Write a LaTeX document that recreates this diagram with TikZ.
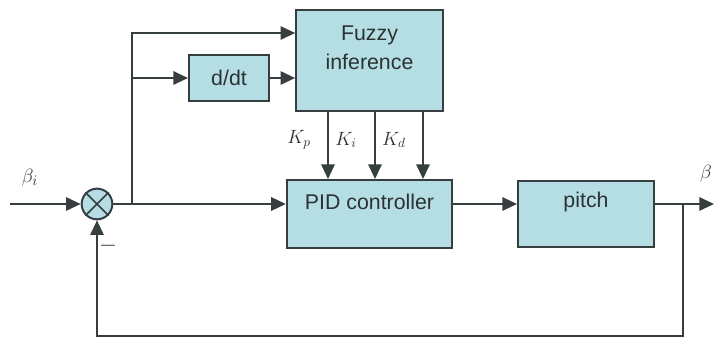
\documentclass[tikz,border=0pt]{standalone}
\usepackage{fontspec}
\setmainfont{Liberation Sans}
\usetikzlibrary{arrows.meta}
\definecolor{boxfill}{RGB}{180,222,228}
\definecolor{edge}{RGB}{55,62,64}

\begin{document}
\begin{tikzpicture}[x=0.75pt,y=-0.75pt,
  blk/.style={draw=edge,fill=boxfill,line width=1.5pt,inner sep=0pt},
  txt/.style={font=\fontsize{16}{19}\selectfont,text=edge!80!black},
  sig/.style={-{Triangle[length=11pt,width=10pt]},line width=1.5pt,draw=edge}]
  \useasboundingbox (0,0) rectangle (714,341);
  % blocks
  \node[blk,minimum width=110pt,minimum height=76pt] (fuzzy) at (369.5,60.5) {};
  \node[blk,minimum width=60pt,minimum height=35pt] (ddt) at (229,78) {};
  \node[blk,minimum width=124pt,minimum height=51pt] (pid) at (369.5,214) {};
  \node[blk,minimum width=102pt,minimum height=50pt] (pitch) at (586,214) {};
  \node[blk,circle,minimum size=23pt] (sum) at (97,204) {};
  \draw[edge,line width=1.2pt] (sum.north east) -- (sum.south west)
                               (sum.north west) -- (sum.south east);
  \node[txt,align=center] (tfuzzy) at (369.5,48) {Fuzzy\\[3pt]inference};
  \node[txt] (tddt) at (229,78) {d/dt};
  \node[txt] (tpid) at (369.5,202) {PID controller};
  \node[txt] (tpitch) at (586,202) {pitch};
  % signals
  \coordinate (in) at (10,204);
  \coordinate (br) at (132,204);
  \coordinate (fb) at (683,204);
  \coordinate (out) at (714,204);
  \coordinate (bot) at (683,336);
  \draw[sig] (in) -- (sum.west);
  \draw[sig] (sum.east) -- (pid.west |- sum.east);
  \draw[sig] (br) |- (fuzzy.west |- 0,33);
  \draw[sig] (br) |- (ddt.west);
  \draw[sig] (ddt.east) -- (fuzzy.west |- ddt.east);
  \draw[sig] (pid.east |- 0,204) -- (pitch.west |- 0,204);
  \draw[sig] (pitch.east |- 0,204) -- (out);
  \draw[sig] (fb) -- (bot) -| (sum.south);
  \foreach \x/\k in {328/p,375/i,423/d} {
    \draw[sig] (fuzzy.south -| \x,0) -- (pid.north -| \x,0);
    \node[txt,font=\fontsize{14}{16}\selectfont] (k\k) at (\x-29,140) {$K_\k$};
  }
  \node[txt,font=\fontsize{15}{17}\selectfont] (bi) at (30,178) {$\beta_i$};
  \node[txt,font=\fontsize{15}{17}\selectfont] (bo) at (706,174) {$\beta$};
  \node[txt] (minus) at (108,246) {$-$};
\end{tikzpicture}
\end{document}
